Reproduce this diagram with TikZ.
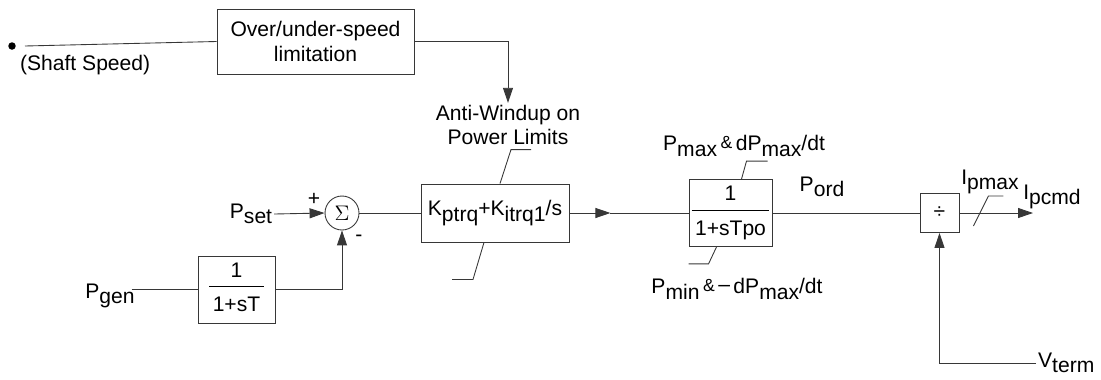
\documentclass[tikz,border=0pt]{standalone}
\usepackage{fontspec}
\setmainfont{Liberation Sans}
\usepackage{tikz}
\usetikzlibrary{shapes,arrows.meta,positioning,calc}
\definecolor{LineGray}{RGB}{55, 55, 55}

% lowered (same size) subscript, as in the block diagram
\newcommand{\lo}[1]{\raisebox{-0.25em}{#1}}
\newcommand{\andsym}{\raisebox{0.12em}{\fontsize{10}{12}\selectfont\&}}
\newcommand{\tfrac}[2]{\setlength{\tabcolsep}{2pt}\begin{tabular}{c}#1\\[1pt]\hline\rule{0pt}{14pt}#2\end{tabular}}

\begin{document}
\begin{tikzpicture}[
    x=0.02cm, y=-0.02cm,
    every node/.style={font=\fontsize{12}{14}\selectfont},
    box/.style={rectangle, draw=LineGray, fill=white, line width=0.5pt, align=center, inner sep=1pt},
    sumnode/.style={circle, draw=LineGray, line width=0.5pt, minimum size=0.68cm, inner sep=0pt},
    dotnode/.style={circle, fill=black, minimum size=0.15cm, inner sep=0pt},
    arrow/.style={-{Triangle[length=0.3cm, width=0.2cm]}, draw=LineGray, line width=0.5pt},
    line/.style={draw=LineGray, line width=0.5pt},
    label/.style={align=center, inner sep=1pt}
]
\useasboundingbox (0,0) rectangle (1101,379);

% === SHAFT SPEED ===
\node[dotnode] (shaft) at (12,46) {};
\node[label, anchor=west] (shaftlbl) at (18,65) {(Shaft Speed)};
\node[box, minimum width=3.94cm, minimum height=1.3cm] (lim) at (315.5,41.5) {Over/under-speed\\limitation};
\node[label] (aw) at (508,125) {Anti-Windup on\\Power Limits};

\draw[line] ([xshift=0.26cm]shaft.center) -- (lim.west);
\draw[arrow] (lim.east) -| (aw.north);

% === POWER ERROR ===
\node[label] (pset) at (251,214) {P\lo{set}};
\node[sumnode] (sum) at (342,213) {$\Sigma$};
\node[label] at (314,199) {+};
\node[label] at (359,238) {-};
\node[label] (pgen) at (110,296) {P\lo{gen}};
\node[box, minimum width=1.54cm, minimum height=1.34cm] (lpf) at (236.5,289.5) {\tfrac{1}{1+sT}};

\draw[arrow] (pset.east) -- (sum.west);
\draw[line] ([xshift=-0.1cm]pgen.east |- lpf.west) -- (lpf.west);
\draw[arrow] (lpf.east) -| (sum.south);

% === PI AND ORDER LAG ===
\node[box, minimum width=2.96cm, minimum height=1.16cm] (pi) at (495,213) {K\lo{ptrq}+K\lo{itrq1}/s};
\node[box, minimum width=1.66cm, minimum height=1.34cm] (lag) at (730.5,213) {\tfrac{1}{1+sTpo}};
\node[label] (pmaxlbl) at (744,146) {P\lo{max}\,\andsym\,dP\lo{max}/dt};
\node[label] (pminlbl) at (737,289) {P\lo{min}\,\andsym\,\raisebox{0.12em}{–}\,dP\lo{max}/dt};
\node[label] (pord) at (822,187) {P\lo{ord}};

\draw[line] (sum.east) -- (pi.west);
\draw[arrow] (pi.east) -- ++(41,0) coordinate (pimid);
\draw[line] (pimid) -- (lag.west);

\draw[line] ([xshift=0.1cm]pi.north) -- ++(11,-34) -- ++(20,0);
\draw[line] ([xshift=-0.22cm]pi.south) -- ++(-11,37) -- ++(-21,0);
\draw[line] ([xshift=0.22cm]lag.north) -- ++(5,-18) -- ++(21,0);
\draw[line] ([xshift=-0.28cm]lag.south) -- ++(-8,17) -- ++(-20,0);

% === CURRENT COMMAND ===
\node[box, minimum size=0.78cm] (div) at (939.5,213) {÷};
\coordinate (ipout) at (1033,213);
\node[label] (ipmax) at (990,182) {I\lo{pmax}};
\node[label] (ipcmd) at (1052,197) {I\lo{pcmd}};
\node[label, anchor=west] (vterm) at (1036,363) {V\lo{term}};

\draw[line] (lag.east) -- (div.west);
\draw[arrow] (div.east) -- (ipout);
\draw[line] (div.east) ++(14,13) -- ++(15,-30) -- ++(15,0);
\draw[arrow] (vterm.west) -| (div.south);

\end{tikzpicture}
\end{document}
